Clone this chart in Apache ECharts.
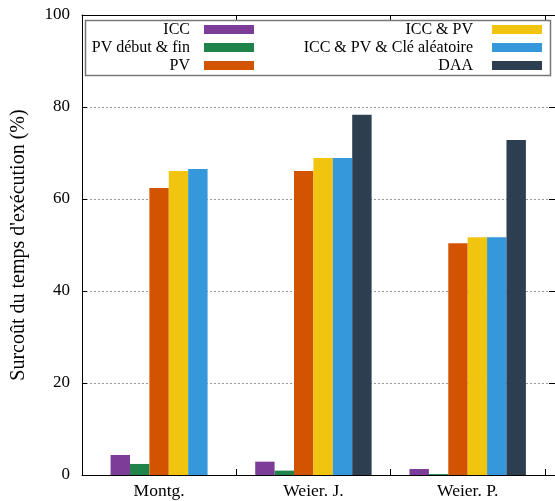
<!DOCTYPE html>
<html>
<head>
<meta charset="utf-8">
<script src="https://cdn.jsdelivr.net/npm/echarts@6/dist/echarts.min.js"></script>
<style>
  html, body { margin: 0; padding: 0; background: #fff; }
  #chart { width: 555px; height: 501px; }
</style>
</head>
<body>
<div id="chart"></div>
<script>
// categories (x axis)
var categories = ['Montg.', 'Weier. J.', 'Weier. P.'];
// series names, in legend order
var seriesNames = ['ICC', 'PV début & fin', 'PV', 'ICC & PV', 'ICC & PV & Clé aléatoire', 'DAA'];
// values, % overhead (null = no bar)
var icc        = [4.35, 2.9, 1.3];
var pvDebutFin = [2.4, 0.95, 0.2];
var pv         = [62.4, 66.1, 50.4];
var iccPv      = [66.1, 68.9, 51.7];
var iccPvCle   = [66.5, 68.9, 51.7];
var daa        = [null, 78.3, 72.8];
var yTicks = [0, 20, 40, 60, 80, 100];

var allValues = [icc, pvDebutFin, pv, iccPv, iccPvCle, daa];
var colors = ['#7d3c98', '#1e8449', '#d35400', '#f1c40f', '#3498db', '#2c3e50'];

var FONT = 'Liberation Serif';
var BAR_PX = 19.4;          // bar width in pixels
var CAT_PX = 155.25;        // width of one category in pixels
var barFrac = BAR_PX / CAT_PX;

// groups with a missing series are centred on the bars they do have
var positions = categories.map(function (c, i) {
    var missing = allValues.filter(function (v) { return v[i] == null; }).length;
    return i + missing * barFrac / 2;
});

var myChart = echarts.init(document.getElementById('chart'), null, { renderer: 'canvas' });

var series = seriesNames.map(function (name, s) {
    return {
        name: name,
        type: 'bar',
        barWidth: BAR_PX,
        barGap: '0%',
        itemStyle: { color: colors[s] },
        data: allValues[s].map(function (v, i) {
            return [positions[i], v == null ? '-' : v];
        })
    };
});

// one legend per entry so that text can be right-aligned next to its swatch
var legendRight = [301, 301, 301, 13, 13, 13];
var legendTop = [20.5, 38.5, 56.5, 20.5, 38.5, 56.5];
var legendPad = [9, 9, 9, 14, 14, 14];
var legends = seriesNames.map(function (name, s) {
    return {
        data: [name],
        right: legendRight[s],
        top: legendTop[s],
        align: 'right',
        padding: 0,
        itemWidth: 50,
        itemHeight: 9,
        icon: 'rect',
        selectedMode: false,
        z: 10,
        textStyle: {
            fontFamily: FONT,
            fontSize: 16,
            color: '#000',
            lineHeight: 18,
            padding: [0, legendPad[s], 0, 0]
        }
    };
});

var option = {
    animation: false,
    textStyle: { fontFamily: FONT },
    grid: { left: 82, right: -3, top: 15, bottom: 26, containLabel: false },
    legend: legends,
    graphic: [{
        type: 'rect',
        shape: { x: 85.5, y: 20.5, width: 465, height: 55 },
        style: { fill: '#fff', stroke: '#777', lineWidth: 1.5 },
        z: 3
    }],
    xAxis: [{
        type: 'value',
        position: 'bottom',
        min: -0.5,
        max: 2.566,
        splitLine: { show: false },
        axisLine: { show: true, onZero: false, lineStyle: { color: '#000', width: 1 } },
        axisTick: { show: true, inside: true, length: 6, customValues: [0.5, 1.5, 2.5],
                    lineStyle: { color: '#000' } },
        axisLabel: {
            customValues: [0, 1, 2],
            formatter: function (v) { return categories[Math.round(v)]; },
            fontFamily: FONT, fontSize: 17.5, color: '#000', margin: 7
        }
    }, {
        type: 'value',
        position: 'top',
        min: -0.5,
        max: 2.566,
        splitLine: { show: false },
        axisLine: { show: true, onZero: false, lineStyle: { color: '#000', width: 1 } },
        axisTick: { show: true, inside: true, length: 6, customValues: [0.5, 1.5, 2.5],
                    lineStyle: { color: '#000' } },
        axisLabel: { show: false }
    }],
    yAxis: [{
        type: 'value',
        position: 'left',
        min: 0,
        max: 100,
        interval: 20,
        name: "Surcoût du temps d'exécution (%)",
        nameLocation: 'middle',
        nameRotate: 90,
        nameGap: 53,
        nameTextStyle: { fontFamily: FONT, fontSize: 20, color: '#000' },
        axisLine: { show: true, onZero: false, lineStyle: { color: '#000', width: 1 } },
        axisTick: { show: true, inside: true, length: 5, lineStyle: { color: '#000' } },
        axisLabel: {
            fontFamily: FONT, fontSize: 17, color: '#000', margin: 12,
            customValues: yTicks
        },
        splitLine: { show: true, lineStyle: { color: '#999', type: [2, 2], width: 1 } }
    }, {
        type: 'value',
        position: 'right',
        min: 0,
        max: 100,
        interval: 20,
        axisLine: { show: true, onZero: false, lineStyle: { color: '#000', width: 1 } },
        axisTick: { show: true, inside: true, length: 6, lineStyle: { color: '#000' } },
        axisLabel: { show: false },
        splitLine: { show: false }
    }],
    series: series
};

myChart.setOption(option);
</script>
</body>
</html>
